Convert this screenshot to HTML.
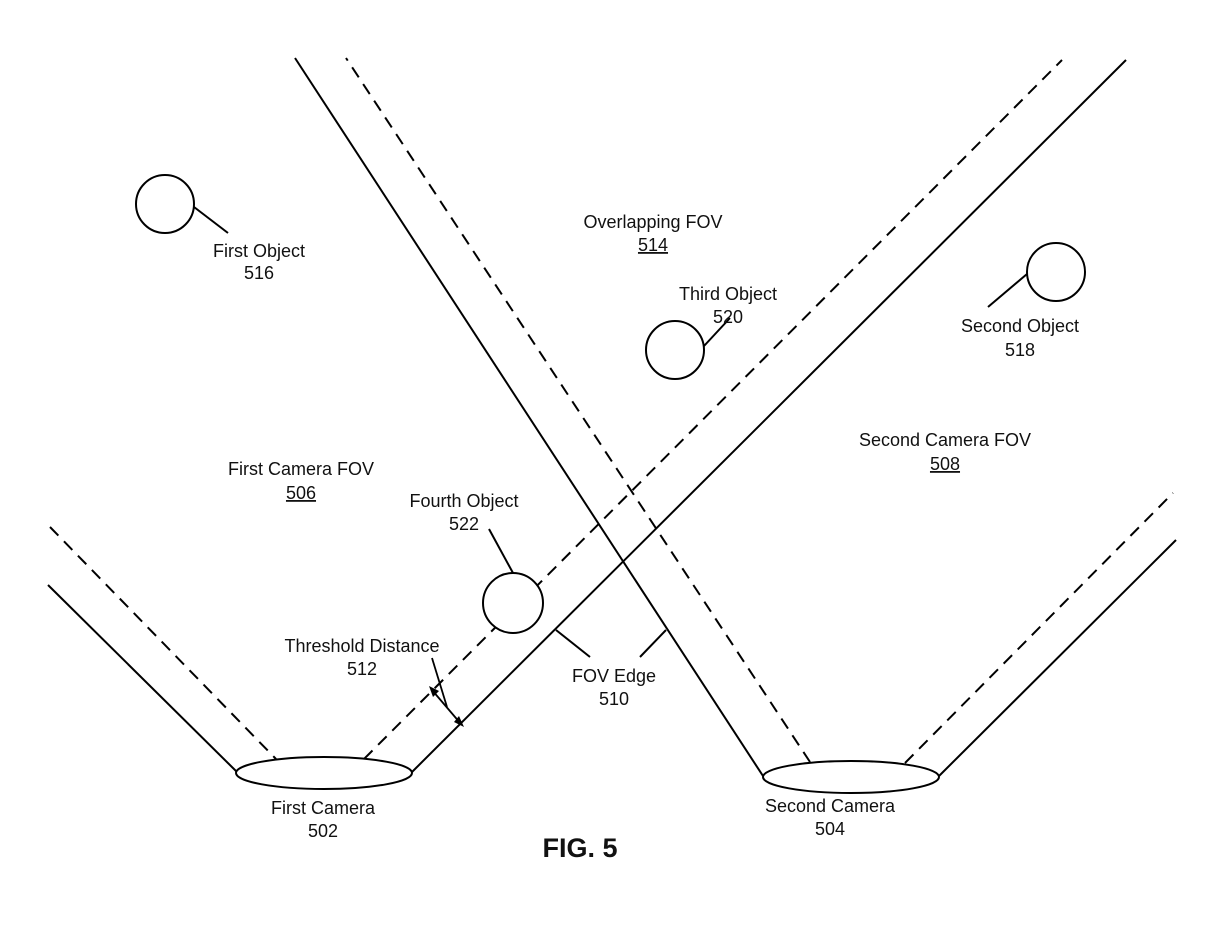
<!DOCTYPE html>
<html><head><meta charset="utf-8"><style>
html,body{margin:0;padding:0;background:#fff;}
svg{display:block;}
text{font-family:"Liberation Sans",Arial,sans-serif;font-size:18px;fill:#111;text-anchor:middle;}
</style></head><body>
<svg width="1218" height="928" viewBox="0 0 1218 928" xmlns="http://www.w3.org/2000/svg">
<g stroke="#000" stroke-width="2" fill="none">
<line x1="48" y1="585" x2="237" y2="772"/>
<line x1="50" y1="527" x2="276" y2="759" stroke-dasharray="12,8"/>
<line x1="412" y1="772" x2="1126" y2="60"/>
<line x1="364" y1="759" x2="1062" y2="60" stroke-dasharray="12,8"/>
<line x1="763" y1="776" x2="295" y2="58"/>
<line x1="810" y1="762" x2="346" y2="58" stroke-dasharray="12,8"/>
<line x1="939" y1="776" x2="1176" y2="540"/>
<line x1="905" y1="763" x2="1173" y2="493" stroke-dasharray="12,8"/>
<ellipse cx="324" cy="773" rx="88" ry="16" fill="#fff"/>
<ellipse cx="851" cy="777" rx="88" ry="16" fill="#fff"/>
<circle cx="165" cy="204" r="29" fill="#fff"/>
<line x1="194" y1="207" x2="228" y2="233"/>
<circle cx="675" cy="350" r="29" fill="#fff"/>
<line x1="704" y1="346" x2="730" y2="318"/>
<circle cx="1056" cy="272" r="29" fill="#fff"/>
<line x1="1027" y1="274" x2="988" y2="307"/>
<circle cx="513" cy="603" r="30" fill="#fff"/>
<line x1="513" y1="573" x2="489" y2="529"/>
<line x1="556" y1="630" x2="590" y2="657"/>
<line x1="666" y1="630" x2="640" y2="657"/>
<line x1="432" y1="690" x2="461" y2="724" stroke-width="1.8"/>
<line x1="432" y1="658" x2="447" y2="707" stroke-width="1.8"/>
</g>
<polygon points="429,686 439,691 433,697" fill="#000"/>
<polygon points="464,727 454,722 459,716" fill="#000"/>
<text x="259" y="257">First Object</text>
<text x="259" y="279">516</text>
<text x="653" y="228">Overlapping FOV</text>
<text x="653" y="251" text-decoration="underline">514</text>
<text x="728" y="300">Third Object</text>
<text x="728" y="323">520</text>
<text x="1020" y="332">Second Object</text>
<text x="1020" y="356">518</text>
<text x="945" y="446">Second Camera FOV</text>
<text x="945" y="470" text-decoration="underline">508</text>
<text x="301" y="475">First Camera FOV</text>
<text x="301" y="499" text-decoration="underline">506</text>
<text x="464" y="507">Fourth Object</text>
<text x="464" y="530">522</text>
<text x="362" y="652">Threshold Distance</text>
<text x="362" y="675">512</text>
<text x="614" y="682">FOV Edge</text>
<text x="614" y="705">510</text>
<text x="323" y="814">First Camera</text>
<text x="323" y="837">502</text>
<text x="830" y="812">Second Camera</text>
<text x="830" y="835">504</text>
<text x="580" y="857" style="font-size:27px;font-weight:bold">FIG. 5</text>
</svg>
</body></html>
